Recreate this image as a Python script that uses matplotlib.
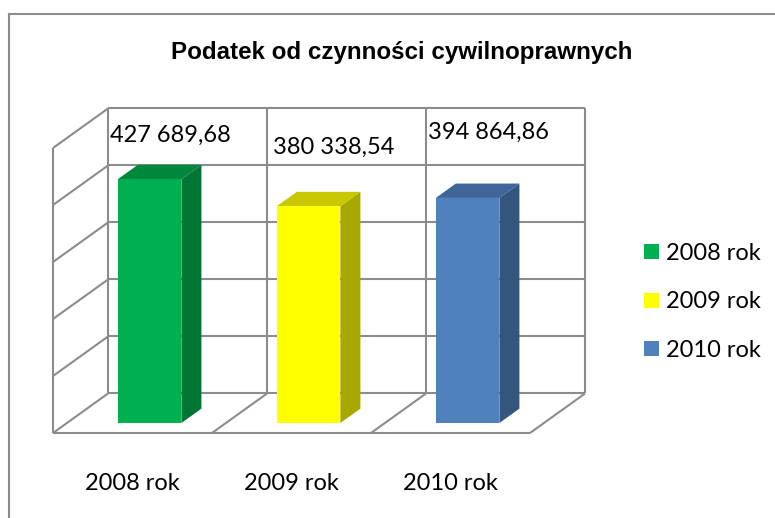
"""
Wykres: Podatek od czynności cywilnoprawnych (słupki 3D, rzut ukośny)
"""
import matplotlib
matplotlib.use('Agg')
import matplotlib.pyplot as plt
from matplotlib.patches import Polygon, Patch
from matplotlib.lines import Line2D

# Dane
categories = ['2008 rok', '2009 rok', '2010 rok']
values = [427689.68, 380338.54, 394864.86]
value_labels = ['427 689,68', '380 338,54', '394 864,86']

# Kolory: przód, bok, góra
front_colors = ['#00B050', '#FFFF00', '#4F81BD']
side_colors = ['#007534', '#A8A800', '#34557E']
top_colors = ['#00873E', '#C8C800', '#3E6698']

y_max = 500000
y_step = 100000

# Parametry rzutu ukośnego (w jednostkach danych)
DX = 0.346      # przesunięcie głębi w osi kategorii
DY = 69300      # przesunięcie głębi w osi wartości
Z0, Z1 = 0.253, 0.617   # głębokość słupka
BAR_W = 0.40

GRID = '#8C8C8C'


def proj(x, v, z):
    return x + z * DX, v + z * DY


fig = plt.figure(figsize=(7.75, 5.18), dpi=100)
ax = fig.add_axes([0, 0, 1, 1])
ax.set_xlim(-53 / 159, (775 - 53) / 159)
ax.set_ylim(-(518 - 433) / 57 * 1e5, 433 / 57 * 1e5)
ax.axis('off')

# Ramka wykresu
fig.add_artist(Line2D([8.5 / 775, 8.5 / 775], [0, 1 - 14 / 518], color='#8C8C8C', lw=1.5))
fig.add_artist(Line2D([8.5 / 775, 1], [1 - 14 / 518, 1 - 14 / 518], color='#8C8C8C', lw=1.5))

n = len(categories)


def seg(p, q):
    xs, ys = zip(proj(*p), proj(*q))
    ax.plot(xs, ys, color=GRID, lw=1.5, zorder=1, solid_capstyle='butt')


# Tylna ściana i lewa ściana
ticks = range(0, y_max + 1, y_step)
for t in ticks:
    seg((0, t, 1), (n, t, 1))
    seg((0, t, 0), (0, t, 1))
for i in range(n + 1):
    seg((i, 0, 1), (i, y_max, 1))
seg((0, 0, 0), (0, y_max, 0))

# Podłoga
seg((0, 0, 0), (n, 0, 0))
for i in range(1, n + 1):
    seg((i, 0, 0), (i, 0, 1))

# Słupki
for i, v in enumerate(values):
    x0 = i + 0.52 - BAR_W / 2
    x1 = x0 + BAR_W
    front = [proj(x0, 0, Z0), proj(x1, 0, Z0), proj(x1, v, Z0), proj(x0, v, Z0)]
    side = [proj(x1, 0, Z0), proj(x1, 0, Z1), proj(x1, v, Z1), proj(x1, v, Z0)]
    top = [proj(x0, v, Z0), proj(x1, v, Z0), proj(x1, v, Z1), proj(x0, v, Z1)]
    ax.add_patch(Polygon(side, closed=True, fc=side_colors[i], ec='none', zorder=3))
    ax.add_patch(Polygon(top, closed=True, fc=top_colors[i], ec='none', zorder=3))
    ax.add_patch(Polygon(front, closed=True, fc=front_colors[i], ec='none', zorder=4))

# Etykiety danych (ręcznie rozmieszczone jak w oryginale)
label_pos = [(0.358, 522800), (1.384, 501800), (2.358, 528100)]
for (lx, ly), txt in zip(label_pos, value_labels):
    ax.text(lx, ly, txt, ha='left', va='center', fontsize=17, family='Lato', zorder=5)

# Etykiety kategorii
for i, c in enumerate(categories):
    ax.text(i + 0.5, -(484 - 433) / 57 * 1e5, c, ha='center', va='center',
            fontsize=17, family='Lato')

# Tytuł
fig.text(0.518, 1 - 53 / 518, 'Podatek od czynności cywilnoprawnych', ha='center', va='center',
         fontsize=17.4, fontweight='bold', family='Liberation Sans')

# Legenda
handles = [Patch(fc=c, ec='none') for c in front_colors]
fig.legend(handles, categories, loc='center left', bbox_to_anchor=(644 / 775, 1 - 302 / 518),
           frameon=False, prop={'family': 'Lato', 'size': 17}, borderpad=0, borderaxespad=0,
           handlelength=0.62, handleheight=0.62, handletextpad=0.3, labelspacing=1.17)

fig.savefig('out.png', dpi=100)
